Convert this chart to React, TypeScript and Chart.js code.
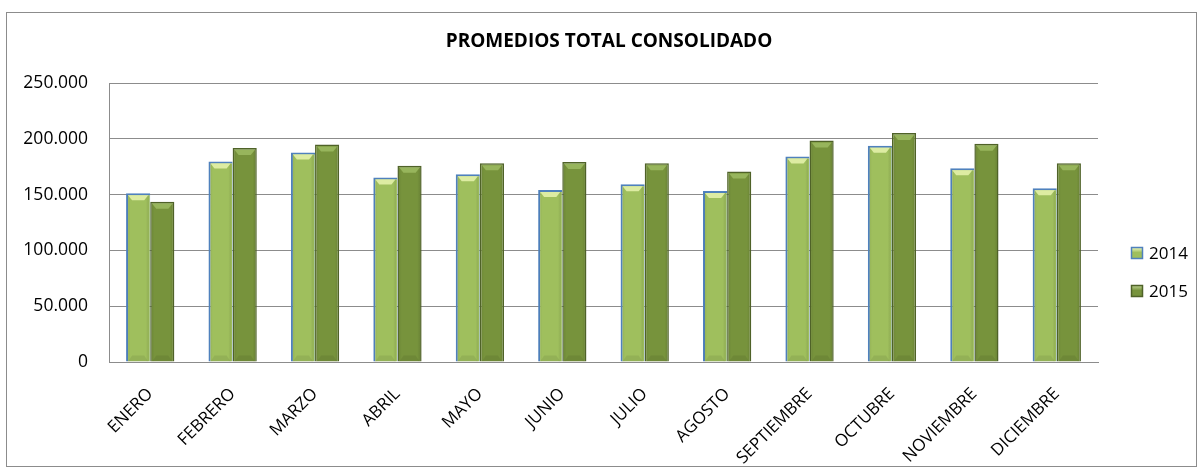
import React, { useEffect, useRef } from "react";
import { Chart, registerables } from "chart.js";

Chart.register(...registerables);

const chartTitle = "PROMEDIOS TOTAL CONSOLIDADO";
const months = [
  "ENERO",
  "FEBRERO",
  "MARZO",
  "ABRIL",
  "MAYO",
  "JUNIO",
  "JULIO",
  "AGOSTO",
  "SEPTIEMBRE",
  "OCTUBRE",
  "NOVIEMBRE",
  "DICIEMBRE",
];
const seriesLabels = ["2014", "2015"];
const values2014 = [151300, 179600, 187700, 165300, 168300, 154200, 159300, 153300, 184100, 193700, 173700, 155800];
const values2015 = [143700, 191700, 194900, 175800, 178200, 179100, 178200, 170700, 198500, 205100, 195500, 178200];
const yMin = 0;
const yMax = 250000;
const yStep = 50000;

const FONT = "'Open Sans', 'DejaVu Sans', sans-serif";
const W = 1204;
const H = 475;

const fmt = (n: number) => String(Math.round(n)).replace(/\B(?=(\d{3})+(?!\d))/g, ".");

const fills = ["#9FBF5D", "#77933C"];
const edges = ["#4F81BD", "#4F6228"];
const capColors = ["rgba(236,248,180,0.8)", "rgba(165,195,105,0.7)"];

const framePlugin = {
  id: "frame",
  beforeDraw(chart: any) {
    const ctx = chart.ctx;
    ctx.save();
    ctx.fillStyle = "#ffffff";
    ctx.fillRect(0, 0, chart.width, chart.height);
    ctx.restore();
  },
  afterDraw(chart: any) {
    const ctx = chart.ctx;
    ctx.save();
    ctx.strokeStyle = "#8C8C8C";
    ctx.lineWidth = 1;
    ctx.strokeRect(6.5, 12.5, 1190, 454);
    // title
    ctx.fillStyle = "#000";
    ctx.font = `bold 19px ${FONT}`;
    ctx.textAlign = "center";
    ctx.textBaseline = "middle";
    ctx.fillText(chartTitle, 609, 42);
    // legend
    const ds = chart.data.datasets;
    ds.forEach((d: any, i: number) => {
      const cy = 253 + i * 38;
      const bx = 1131;
      const g = ctx.createLinearGradient(bx, cy - 6, bx, cy + 6);
      g.addColorStop(0, capColors[i]);
      g.addColorStop(0.45, d.backgroundColor);
      g.addColorStop(1, d.backgroundColor);
      ctx.fillStyle = g;
      ctx.fillRect(bx, cy - 6, 12, 12);
      ctx.strokeStyle = edges[i];
      ctx.lineWidth = 1.5;
      ctx.strokeRect(bx + 0.5, cy - 5.5, 11, 11);
      ctx.fillStyle = "#000";
      ctx.font = `17px ${FONT}`;
      ctx.textAlign = "left";
      ctx.textBaseline = "middle";
      ctx.fillText(d.label, 1149, cy + 1);
    });
    ctx.restore();
  },
};

const bevelPlugin = {
  id: "bevel",
  afterDatasetsDraw(chart: any) {
    const ctx = chart.ctx;
    ctx.save();
    chart.data.datasets.forEach((_d: any, di: number) => {
      const meta = chart.getDatasetMeta(di);
      meta.data.forEach((bar: any) => {
        const left = bar.x - bar.width / 2;
        const right = bar.x + bar.width / 2;
        const top = bar.y;
        const bottom = bar.base;
        const g = ctx.createLinearGradient(left, 0, right, 0);
        g.addColorStop(0, "rgba(0,0,0,0.10)");
        g.addColorStop(0.18, "rgba(0,0,0,0)");
        g.addColorStop(0.82, "rgba(0,0,0,0)");
        g.addColorStop(1, "rgba(0,0,0,0.14)");
        ctx.fillStyle = g;
        ctx.fillRect(left + 1.5, top + 1.5, right - left - 3, bottom - top - 1.5);
        ctx.beginPath();
        ctx.moveTo(left + 2, top + 2);
        ctx.lineTo(right - 2, top + 2);
        ctx.lineTo(right - 6, top + 7);
        ctx.lineTo(left + 6, top + 7);
        ctx.closePath();
        ctx.fillStyle = capColors[di];
        ctx.fill();
        ctx.beginPath();
        ctx.moveTo(left + 2, bottom);
        ctx.lineTo(right - 2, bottom);
        ctx.lineTo(right - 6, bottom - 6);
        ctx.lineTo(left + 6, bottom - 6);
        ctx.closePath();
        ctx.fillStyle = "rgba(0,0,0,0.07)";
        ctx.fill();
      });
    });
    ctx.restore();
  },
};

export default function App() {
  const ref = useRef<HTMLCanvasElement | null>(null);

  useEffect(() => {
    if (!ref.current) return;
    const chart = new Chart(ref.current, {
      type: "bar",
      data: {
        labels: months,
        datasets: [
          {
            label: seriesLabels[0],
            data: values2014,
            backgroundColor: fills[0],
            borderColor: edges[0],
            borderWidth: { top: 2, left: 2, right: 0.5, bottom: 0 },
            borderSkipped: false,
            barPercentage: 1,
            categoryPercentage: 0.586,
          },
          {
            label: seriesLabels[1],
            data: values2015,
            backgroundColor: fills[1],
            borderColor: edges[1],
            borderWidth: { top: 1.5, left: 1.5, right: 1.5, bottom: 0 },
            borderSkipped: false,
            barPercentage: 1,
            categoryPercentage: 0.586,
          },
        ],
      },
      options: {
        responsive: false,
        animation: false,
        devicePixelRatio: 1,
        layout: { padding: { top: 83, left: 0, right: W - 1098, bottom: 0 } },
        plugins: {
          legend: { display: false },
          title: { display: false },
          tooltip: { enabled: false },
        },
        scales: {
          x: {
            grid: { display: false },
            border: { display: true, color: "#8C8C8C", width: 1 },
            ticks: {
              color: "#000",
              font: { family: FONT, size: 17 },
              minRotation: 45,
              maxRotation: 45,
              autoSkip: false,
              padding: 14,
            },
            afterFit: (s: any) => {
              s.height = H - 362;
            },
          },
          y: {
            min: yMin,
            max: yMax,
            ticks: {
              stepSize: yStep,
              color: "#000",
              font: { family: FONT, size: 17.5 },
              padding: 21,
              callback: (v: any) => fmt(Number(v)),
            },
            grid: { color: "#8C8C8C", lineWidth: 1, drawTicks: false },
            border: { display: true, color: "#8C8C8C", width: 1 },
            afterFit: (s: any) => {
              s.width = 109;
            },
          },
        },
      },
      plugins: [framePlugin, bevelPlugin],
    });
    return () => chart.destroy();
  }, []);

  return (
    <div style={{ position: "absolute", left: 0, top: 0, width: W, height: H, background: "#fff" }}>
      <canvas ref={ref} width={W} height={H} style={{ width: W, height: H, display: "block" }} />
    </div>
  );
}
